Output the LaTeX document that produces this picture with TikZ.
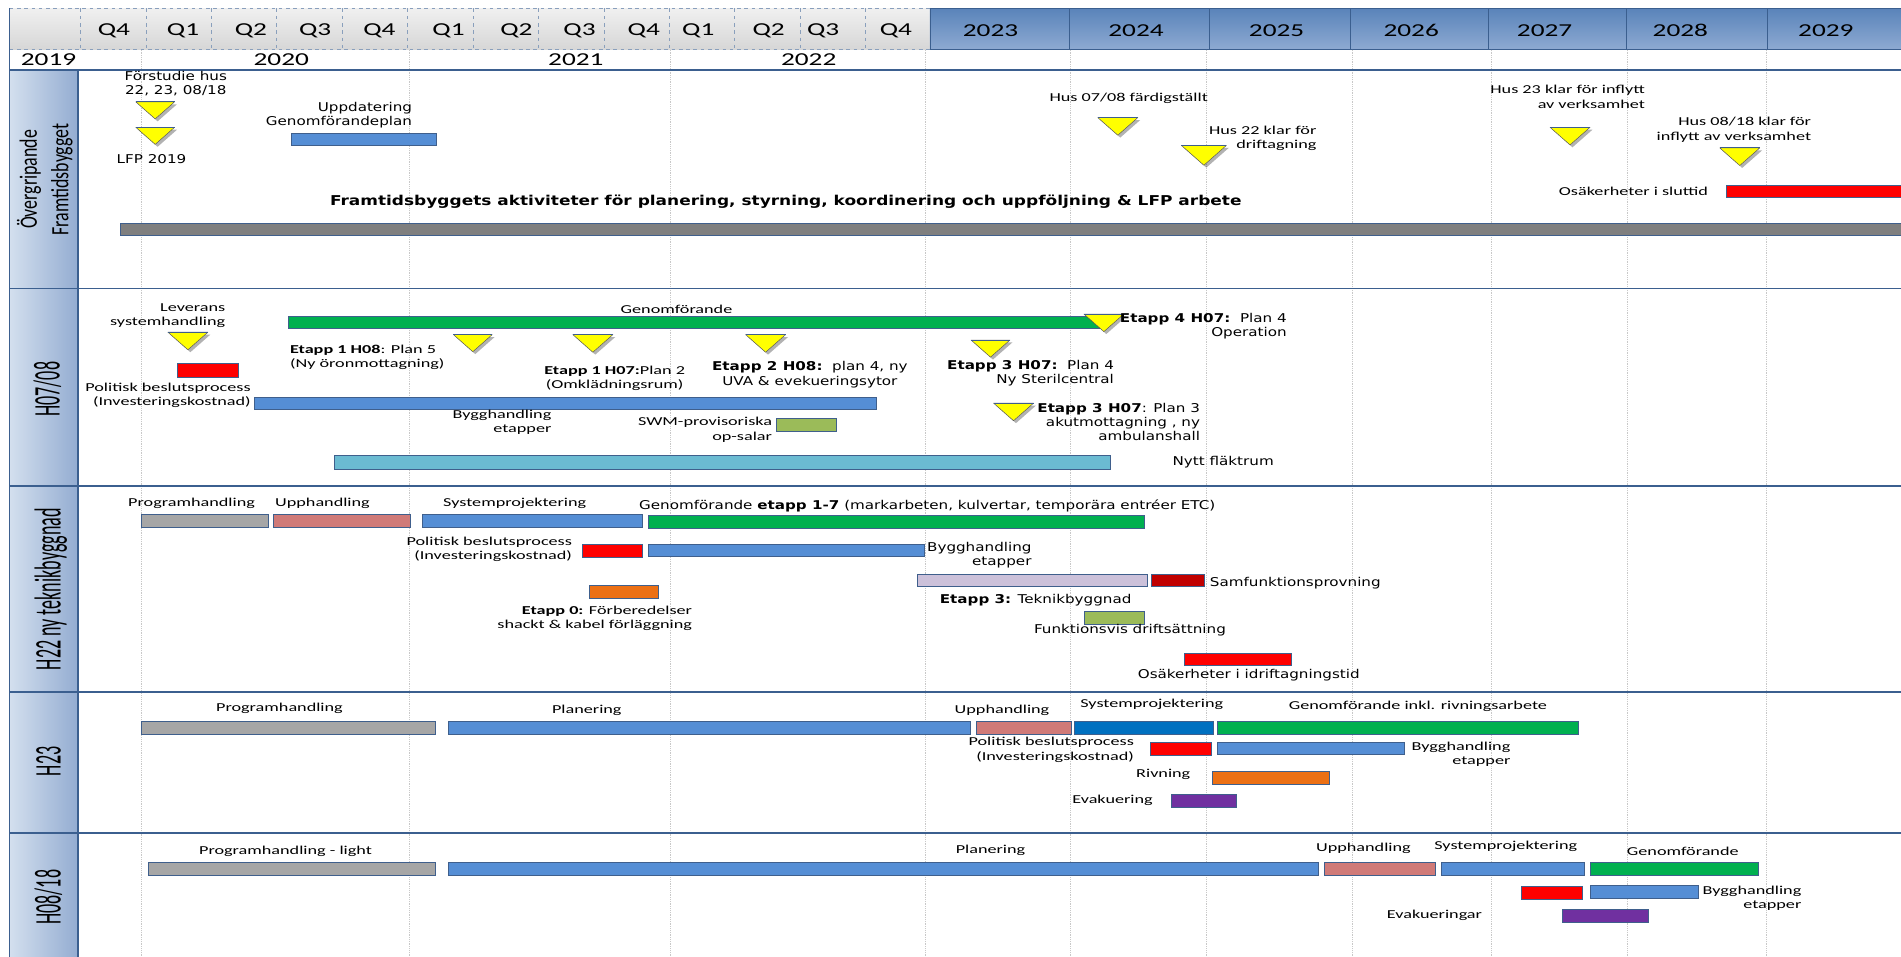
\documentclass[tikz,border=0pt]{standalone}
\usepackage{fontspec}
\setmainfont{Carlito}
\newfontfamily\calfont{Carlito}[FakeStretch=1.5]
\newfontfamily\verfont{DejaVu Sans}[FakeStretch=1.25]
\newfontfamily\sidefont{Carlito}[FakeStretch=0.48]
\newfontfamily\sidefontb{Carlito}[FakeStretch=0.72]
\usetikzlibrary{positioning}
\definecolor{barline}{HTML}{3F5F8C}
\definecolor{bblue}{HTML}{558ED5}
\definecolor{dblue}{HTML}{0070C0}
\definecolor{bgray}{HTML}{A6A6A6}
\definecolor{dgray}{HTML}{7F7F7F}
\definecolor{bpink}{HTML}{D07A78}
\definecolor{bgreen}{HTML}{00B050}
\definecolor{bred}{HTML}{FF0000}
\definecolor{dred}{HTML}{C00000}
\definecolor{borange}{HTML}{EC7014}
\definecolor{bolive}{HTML}{9BBB59}
\definecolor{blav}{HTML}{CCC1DA}
\definecolor{bcyan}{HTML}{6BBBD2}
\definecolor{bpurple}{HTML}{7030A0}
\definecolor{myellow}{HTML}{FFFF00}
\definecolor{framec}{HTML}{3B5F8F}
\definecolor{gridc}{HTML}{C8C8C8}
\definecolor{hblue1}{HTML}{5A84BA}
\definecolor{hblue2}{HTML}{8EAAD2}
\definecolor{side1}{HTML}{D3DFEE}
\definecolor{side2}{HTML}{93ACD1}
% milestone: [width]{name}{x}{top y}
\newcommand{\mstone}[4][32]{%
  \coordinate (#2) at (#3,#4);
  \fill[mshadow] (#3+2,#4+2) ++(-#1/2,0) -- ++(#1,0) -- ++(-#1/2,#1*0.44) -- cycle;
  \draw[mile] (#2) ++(-#1/2,0) -- ++(#1,0) -- ++(-#1/2,#1*0.44) -- cycle;
  \draw[mtop] (#2) ++(-#1/2,0) -- ++(#1,0);
}
\begin{document}
\begin{tikzpicture}[x=1pt,y=-1pt]
\tikzstyle{bar}=[draw=barline,line width=0.6pt]
\tikzstyle{cal}=[inner sep=0pt,font=\calfont\fontsize{10}{11.8}\selectfont]
\tikzstyle{ver}=[inner sep=0pt,font=\verfont\fontsize{10}{11.6}\selectfont]
\tikzstyle{hdr}=[inner sep=0pt,font=\calfont\fontsize{15}{18}\selectfont]
\tikzstyle{sect}=[draw=framec,line width=1.4pt]
\tikzstyle{gridl}=[draw=gridc,densely dotted,line width=0.5pt]
\tikzstyle{qsep}=[draw=framec!60,dashed,line width=0.6pt]
\tikzstyle{mile}=[fill=myellow,draw=gray!70!black,line width=0.4pt,line join=round]
\tikzstyle{mtop}=[draw=barline,line width=0.8pt]
\tikzstyle{mshadow}=[fill=black,opacity=0.3]
\tikzstyle{side}=[rotate=90,inner sep=0pt,align=center]
\useasboundingbox (0,0) rectangle (1568,789);
% header
\shade[top color=gray!12,bottom color=gray!32] (8,7) rectangle (767,41);
\foreach \i in {0,...,12} \draw[qsep] ({66.5+53.95*\i},7) -- ({66.5+53.95*\i},41);
\draw[qsep] (8,7) -- (767,7);
\draw[qsep] (8,41) -- (767,41);
\foreach \x/\q [count=\k] in {94/Q4,151/Q1,207/Q2,260/Q3,313/Q4,370/Q1,426/Q2,478/Q3,531/Q4,576/Q1,634/Q2,679/Q3,739/Q4}
  \node[hdr] (q\k) at (\x,25) {\q};
\shade[top color=hblue1,bottom color=hblue2] (767,7) rectangle (1568,41);
\foreach \x in {767,881.7,997.7,1113.5,1227.8,1341.6,1457.5} \draw[framec,line width=0.6pt] (\x,7) -- (\x,41);
\foreach \x/\y [count=\k] in {817/2023,937/2024,1053/2025,1164/2026,1274/2027,1386/2028,1506/2029}
  \node[hdr] (y\k) at (\x,25) {\y};
\foreach \x/\y [count=\k] in {40/2019,232/2020,475/2021,667/2022}
  \node[hdr] (z\k) at (\x,49) {\y};
\draw[framec,line width=1pt] (767,7) -- (1568,7);
\draw[framec,line width=1pt] (767,41) -- (1568,41);
% side column and frame
\shade[left color=side1,right color=side2] (8,58) rectangle (64.5,789);
\foreach \x in {116.5,338,553,763,883,995,1115,1230,1342,1457} \draw[gridl] (\x,41) -- (\x,789);
\foreach \y in {58,238,401,571,687} \draw[sect] (8,\y) -- (1568,\y);
\draw[framec,line width=1.2pt] (8,7) -- (8,789);
\draw[framec,line width=1.2pt] (64.5,58) -- (64.5,789);
\node[side,font=\sidefontb\fontsize{20.5}{26}\selectfont] (s1) at (37,148) {Övergripande\\Framtidsbygget};
\node[side,font=\sidefont\fontsize{31}{31}\selectfont] (s2) at (39,321) {H07/08};
\node[side,font=\sidefont\fontsize{31}{31}\selectfont] (s3) at (42,486) {H22 ny teknikbyggnad};
\node[side,font=\sidefont\fontsize{31}{31}\selectfont] (s4) at (40,628) {H23};
\node[side,font=\sidefont\fontsize{31}{31}\selectfont] (s5) at (40,740) {H08/18};
% Övergripande Framtidsbygget
\node[ver,align=center] (fs) at (145,69) {Förstudie hus\\22, 23, 08/18};
\mstone{m1}{128}{84}
\mstone{m2}{128}{105}
\node[ver] (lfp) at (125,131) {LFP 2019};
\node[ver,align=right,anchor=east] (upd) at (340,94.6) {Uppdatering\\Genomförandeplan};
\draw[bar,fill=bblue] (240,110) rectangle (360,120);
\node[ver,font=\verfont\bfseries\fontsize{11.2}{13}\selectfont,anchor=west] (tit) at (272,166) {Framtidsbyggets aktiviteter för planering, styrning, koordinering och uppföljning \& LFP arbete};
\draw[bar,fill=dgray] (99,184) rectangle (1575,194);
\node[cal] (h78) at (931,81) {Hus 07/08 färdigställt};
\mstone[33]{m3}{922}{97}
\node[cal,align=right,anchor=east] (h22) at (1086,114) {Hus 22 klar för\\driftagning};
\mstone[37]{m4}{993}{120}
\node[cal,align=right,anchor=east] (h23) at (1357,80) {Hus 23 klar för inflytt\\av verksamhet};
\mstone[33]{m5}{1295}{105}
\node[cal,align=right,anchor=east] (h818) at (1494,107) {Hus 08/18 klar för\\inflytt av verksamhet};
\mstone[33]{m6}{1435}{122}
\node[cal,anchor=east] (osk) at (1409,158) {Osäkerheter i sluttid};
\draw[bar,fill=bred] (1424,153) rectangle (1575,163);
% H07/08
\node[cal,align=right,anchor=east] (lev) at (186,260.4) {Leverans\\systemhandling};
\mstone[33]{m7}{155}{274}
\draw[bar,fill=bred] (146,300) rectangle (197,311);
\node[cal,align=right,anchor=east] (pol1) at (207,326.3) {Politisk beslutsprocess\\(Investeringskostnad)};
\draw[bar,fill=bblue] (210,327.5) rectangle (723,338);
\draw[bar,fill=bgreen] (238,260.6) rectangle (909.4,270.6);
\node[cal] (gen1) at (558,255) {Genomförande};
\mstone[33]{m8}{910.5}{259}
\node[ver,align=right,anchor=east] (e4) at (1061.5,269) {\textbf{Etapp 4 H07:}\ \ Plan 4\\Operation};
\mstone{m9}{390}{276}
\node[cal,align=left,anchor=west] (e1) at (239,295) {\textbf{Etapp 1 H08}: Plan 5\\(Ny öronmottagning)};
\mstone[33]{m10}{489}{276}
\node[cal,align=center] (e2) at (507,312) {\textbf{Etapp 1 H07:}Plan 2\\(Omklädningsrum)};
\mstone[33]{m11}{631.5}{276}
\node[ver,align=center] (e3) at (668,309) {\textbf{Etapp 2 H08:}\ \ plan 4, ny\\UVA \& evekueringsytor};
\mstone{m12}{817}{280.5}
\node[ver,align=right,anchor=east] (e5) at (919,308) {\textbf{Etapp 3 H07:}\ \ Plan 4\\Ny Sterilcentral};
\mstone[33]{m13}{836}{332.5}
\node[ver,align=right,anchor=east] (e6) at (990,347.8) {\textbf{Etapp 3 H07}: Plan 3\\akutmottagning , ny\\ambulanshall};
\node[cal,align=right,anchor=east] (byg1) at (455,348.3) {Bygghandling\\etapper};
\node[cal,align=right,anchor=east] (swm) at (637,354.5) {SWM-provisoriska\\op-salar};
\draw[bar,fill=bolive] (640,345) rectangle (690,355.5);
\draw[bar,fill=bcyan] (276,376) rectangle (915.7,387);
\node[ver,anchor=west] (nyt) at (967,380.8) {Nytt fläktrum};
% H22 ny teknikbyggnad
\node[cal] (prg3) at (158,415) {Programhandling};
\draw[bar,fill=bgray] (116.5,424) rectangle (221,434.6);
\node[cal] (upp3) at (266,415) {Upphandling};
\draw[bar,fill=bpink] (225.5,424) rectangle (338.5,434.6);
\node[cal] (sys3) at (424.5,415) {Systemprojektering};
\draw[bar,fill=bblue] (348,424) rectangle (530,434.6);
\node[ver,anchor=west] (gen3) at (527,417.5) {Genomförande \textbf{etapp 1-7} (markarbeten, kulvertar, temporära entréer ETC)};
\draw[bar,fill=bgreen] (535,425) rectangle (943.6,436);
\node[cal,align=right,anchor=east] (pol3) at (472,453) {Politisk beslutsprocess\\(Investeringskostnad)};
\draw[bar,fill=bred] (480,449) rectangle (530,459.6);
\draw[bar,fill=bblue] (535,449) rectangle (762.6,459);
\node[ver,align=right,anchor=east] (byg3) at (851,458) {Bygghandling\\etapper};
\draw[bar,fill=blav] (756.4,473.4) rectangle (946.6,484);
\draw[bar,fill=dred] (949.5,473.4) rectangle (993,484);
\node[ver,anchor=west] (samf) at (997.8,480.6) {Samfunktionsprovning};
\node[ver,anchor=west] (et3) at (775,495) {\textbf{Etapp 3:} Teknikbyggnad};
\draw[bar,fill=bolive] (894,504.5) rectangle (943.6,515);
\node[ver] (funk) at (932,519.6) {Funktionsvis driftsättning};
\draw[bar,fill=borange] (486,483) rectangle (543,493.5);
\node[cal,align=right,anchor=east] (et0) at (571,510) {\textbf{Etapp 0:} Förberedelser\\shackt \& kabel förläggning};
\draw[bar,fill=bred] (976.6,538.6) rectangle (1065,549);
\node[ver] (osk3) at (1030,557) {Osäkerheter i idriftagningstid};
% H23
\node[cal] (prg4) at (230.5,584) {Programhandling};
\draw[bar,fill=bgray] (116.5,595) rectangle (359,605.4);
\node[cal] (pla4) at (484,586) {Planering};
\draw[bar,fill=bblue] (370,595) rectangle (800,605.4);
\node[cal] (upp4) at (826.5,585.6) {Upphandling};
\draw[bar,fill=bpink] (805.5,595) rectangle (883.4,605.4);
\node[cal] (sys4) at (950,580.7) {Systemprojektering};
\draw[bar,fill=dblue] (886,595) rectangle (1000.5,605.4);
\node[cal] (gen4) at (1169.5,583) {Genomförande inkl. rivningsarbete};
\draw[bar,fill=bgreen] (1004,595) rectangle (1302,605.4);
\node[cal,align=right,anchor=east] (pol4) at (935.5,618.5) {Politisk beslutsprocess\\(Investeringskostnad)};
\draw[bar,fill=bred] (948.6,612.6) rectangle (999,623);
\draw[bar,fill=bblue] (1004,612) rectangle (1158,622);
\node[cal,align=right,anchor=east] (byg4) at (1246,622) {Bygghandling\\etapper};
\node[cal,anchor=east] (riv) at (982,639) {Rivning};
\draw[bar,fill=borange] (999.6,636) rectangle (1096.7,646.6);
\node[cal,anchor=east] (evk4) at (951,660) {Evakuering};
\draw[bar,fill=bpurple] (966,655) rectangle (1020,666);
% H08/18
\node[cal] (prg5) at (235.5,702.5) {Programhandling - light};
\draw[bar,fill=bgray] (122.4,711) rectangle (359,722);
\node[cal] (pla5) at (817,701) {Planering};
\draw[bar,fill=bblue] (370,711) rectangle (1087,722);
\node[cal] (upp5) at (1124.6,700) {Upphandling};
\draw[bar,fill=bpink] (1092.5,711) rectangle (1183.6,722);
\node[cal] (sys5) at (1242,698) {Systemprojektering};
\draw[bar,fill=bblue] (1188.6,711) rectangle (1307,722);
\node[cal] (gen5) at (1388,702) {Genomförande};
\draw[bar,fill=bgreen] (1312,711) rectangle (1450.6,722);
\draw[bar,fill=bred] (1254.5,731) rectangle (1304.8,742);
\draw[bar,fill=bblue] (1312,730.5) rectangle (1401,741);
\node[cal,align=right,anchor=east] (byg5) at (1486,741) {Bygghandling\\etapper};
\node[cal,anchor=east] (evk5) at (1222.6,755) {Evakueringar};
\draw[bar,fill=bpurple] (1288.5,749.7) rectangle (1360,760.5);
\end{tikzpicture}
\end{document}
